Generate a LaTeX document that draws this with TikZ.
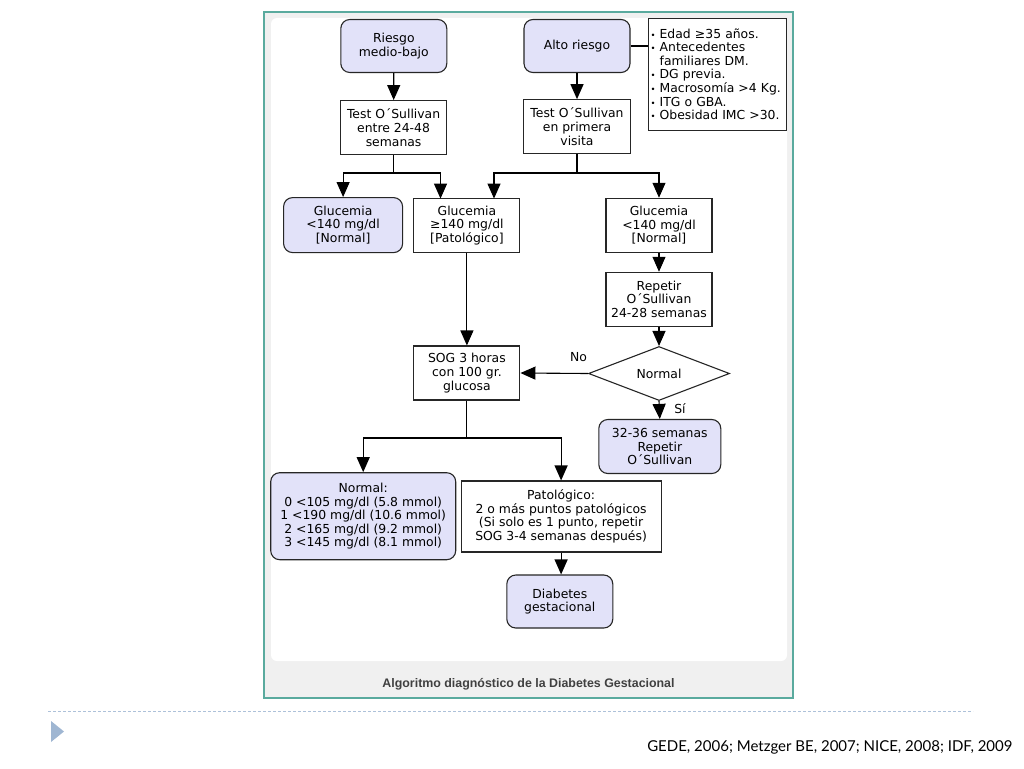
\documentclass[tikz,border=0pt]{standalone}
\usepackage{fontspec}
\setmainfont{DejaVu Sans}
\newfontfamily\pie{Liberation Sans}
\newfontfamily\cita{Lato}
\usetikzlibrary{arrows.meta,shapes.geometric}
\definecolor{lila}{HTML}{E2E2F9}
\definecolor{verdemarco}{HTML}{5AAA9E}
\definecolor{grisfondo}{HTML}{F0F0F0}
\definecolor{azulpie}{HTML}{9FB6D2}
\newcommand{\punto}{{\fontsize{8.5}{8}\selectfont\textbullet}\ }
\tikzset{
    caja/.style={draw=black!85, line width=1.1pt, align=center, inner sep=2pt,
        font=\fontsize{12.4}{13.6}\selectfont},
    cajar/.style={caja, fill=lila, rounded corners=9pt},
    flecha/.style={line width=1.1pt, -{Triangle[length=15pt,width=13pt]}},
    linea/.style={line width=1.1pt},
    etiq/.style={font=\fontsize{12.4}{13.6}\selectfont},
}
\begin{document}
\begin{tikzpicture}[x=1pt, y=-1pt]
    \useasboundingbox (0,0) rectangle (1024,768);
        \fill[grisfondo] (264,12) rectangle (793,698);
        \draw[verdemarco, line width=1.2pt] (264,12) rectangle (793,698);
        \fill[white, rounded corners=6pt] (271,18) rectangle (787,661);
        \node [font=\pie\bfseries\fontsize{12.4}{14}\selectfont, text=black!75] (titulo) at (528.5,684) {Algoritmo diagnóstico de la Diabetes Gestacional};

        \node [cajar, minimum width=106pt, minimum height=53pt] (riesgo) at (393.8,46) {Riesgo\\medio-bajo};
        \node [cajar, minimum width=106pt, minimum height=53pt] (alto) at (577,46) {Alto riesgo};
        \node [caja, align=left, text width=134pt, minimum height=112pt] (factores) at (717.5,74.2)
            {\punto Edad ≥35 años.\\\punto Antecedentes\\\phantom{\punto}familiares DM.\\\punto DG previa.\\\punto Macrosomía >4 Kg.\\\punto ITG o GBA.\\\punto Obesidad IMC >30.};
        \node [caja, minimum width=106pt, minimum height=54pt] (testA) at (393.6,127.6) {Test O´Sullivan\\entre 24-48\\semanas};
        \node [caja, minimum width=107pt, minimum height=54pt] (testB) at (577,126.7) {Test O´Sullivan\\en primera\\visita};

        \node [cajar, minimum width=119pt, minimum height=55pt] (glucA) at (343.1,225.1) {Glucemia\\<140 mg/dl\\[0pt][Normal]};
        \node [caja, minimum width=106pt, minimum height=54pt] (glucB) at (466.9,225.3) {Glucemia\\≥140 mg/dl\\[0pt][Patológico]};
        \node [caja, minimum width=106pt, minimum height=54pt] (glucC) at (659,225.3) {Glucemia\\<140 mg/dl\\[0pt][Normal]};
        \node [caja, minimum width=106pt, minimum height=54pt] (repetir) at (659,299.3) {Repetir\\O´Sullivan\\24-28 semanas};

        \node [caja, diamond, aspect=2.6, minimum width=141pt, minimum height=54pt, inner sep=0pt] (dec) at (659,373.5) {Normal};
        \node [caja, minimum width=106pt, minimum height=54pt] (sog) at (466.9,373) {SOG 3 horas\\con 100 gr.\\glucosa};
        \node [cajar, minimum width=122pt, minimum height=54pt] (semanas) at (659.8,446.5) {32-36 semanas\\Repetir\\O´Sullivan};
        \node [etiq] (etiqNo) at (578.5,357) {No};
        \node [etiq] (etiqSi) at (680,409) {Sí};

        \node [cajar, minimum width=185pt, minimum height=87pt] (normal) at (363.2,516.2)
            {Normal:\\0 <105 mg/dl (5.8 mmol)\\1 <190 mg/dl (10.6 mmol)\\2 <165 mg/dl (9.2 mmol)\\3 <145 mg/dl (8.1 mmol)};
        \node [caja, minimum width=200pt, minimum height=71pt] (patol) at (561.1,516.5)
            {Patológico:\\2 o más puntos patológicos\\(Si solo es 1 punto, repetir\\SOG 3-4 semanas después)};
        \node [cajar, minimum width=106pt, minimum height=53pt] (diabetes) at (559.8,601.5) {Diabetes\\gestacional};

        \coordinate (ramaA) at (393.6,173);
        \coordinate (ramaB) at (577,173);
        \coordinate (ramaC) at (466.9,438);
        \coordinate (entradaA) at (440.5,198.6);
        \coordinate (entradaB) at (494,198.6);

        \draw[flecha] (riesgo) to (testA);
        \draw[flecha] (alto) to (testB);
        \draw[linea] (alto.east) to (alto.east -| factores.west);
        \draw[linea] (testA) to (ramaA);
        \draw[flecha] (ramaA) -| (glucA.north);
        \draw[flecha] (ramaA) -| (entradaA);
        \draw[linea] (testB) to (ramaB);
        \draw[flecha] (ramaB) -| (entradaB);
        \draw[flecha] (ramaB) -| (glucC.north);
        \draw[flecha] (glucB) to (sog);
        \draw[flecha] (glucC) to (repetir);
        \draw[flecha] (repetir) to (dec);
        \draw[flecha] (dec.west) to (sog.east);
        \draw[flecha] (dec.south) to (semanas.north);
        \draw[linea] (sog) to (ramaC);
        \draw[flecha] (ramaC) -| (normal.north);
        \draw[flecha] (ramaC) -| (patol.north);
        \draw[flecha] (patol.south) to (patol.south |- diabetes.north);

        \draw[azulpie!85, line width=0.6pt, dash pattern=on 3pt off 2pt] (48,711) -- (973,711);
        \fill[azulpie] (51,721) -- (64,731.5) -- (51,742) -- cycle;
        \node [anchor=east, font=\cita\fontsize{15}{18}\selectfont] (fuentes) at (1016,747) {GEDE, 2006; Metzger BE, 2007; NICE, 2008; IDF, 2009};
    \end{tikzpicture}
\end{document}
